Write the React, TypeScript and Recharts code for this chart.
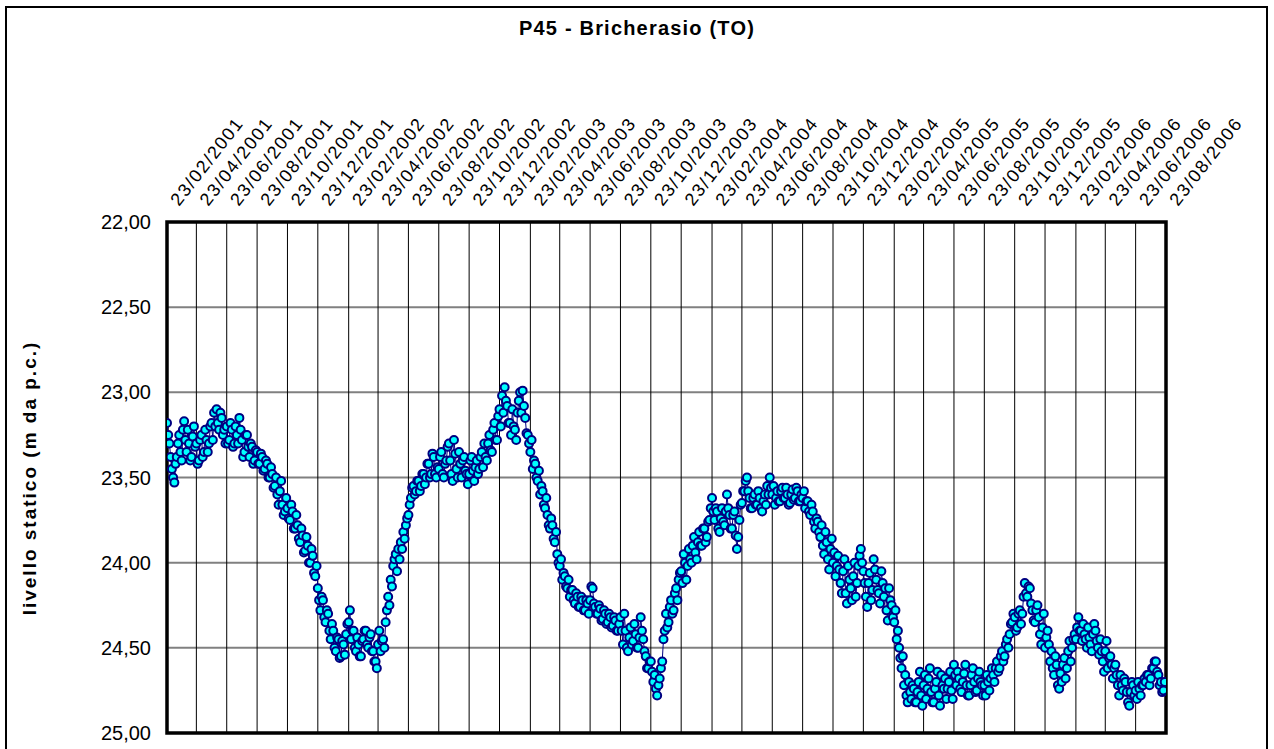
import React from 'react';
import { LineChart, Line, XAxis, YAxis, CartesianGrid, ReferenceArea } from 'recharts';

const chartTitle = 'P45 - Bricherasio (TO)';
const yTitle = 'livello statico (m da p.c.)';

const tickLabels = [
  '23/02/2001', '23/04/2001', '23/06/2001', '23/08/2001', '23/10/2001', '23/12/2001',
  '23/02/2002', '23/04/2002', '23/06/2002', '23/08/2002', '23/10/2002', '23/12/2002',
  '23/02/2003', '23/04/2003', '23/06/2003', '23/08/2003', '23/10/2003', '23/12/2003',
  '23/02/2004', '23/04/2004', '23/06/2004', '23/08/2004', '23/10/2004', '23/12/2004',
  '23/02/2005', '23/04/2005', '23/06/2005', '23/08/2005', '23/10/2005', '23/12/2005',
  '23/02/2006', '23/04/2006', '23/06/2006', '23/08/2006',
];

const yTicks = [22, 22.5, 23, 23.5, 24, 24.5, 25];

// readings, 24 per two-month interval (interval starts given by tickLabels)
const levels2001 = [
  23.18, 23.25, 23.30, 23.38, 23.45, 23.50, 23.53, 23.42, 23.38, 23.30, 23.25, 23.35, 23.40, 23.22, 23.17, 23.28, 23.35, 23.22, 23.30, 23.40, 23.38, 23.26, 23.20, 23.32,
  23.30, 23.42, 23.40, 23.28, 23.25, 23.38, 23.35, 23.22, 23.28, 23.35, 23.30, 23.20, 23.18, 23.28, 23.12, 23.20, 23.10, 23.18, 23.22, 23.12, 23.15, 23.25, 23.22, 23.30,
  23.20, 23.30, 23.28, 23.18, 23.22, 23.32, 23.30, 23.20, 23.25, 23.30, 23.15, 23.22, 23.28, 23.38, 23.35, 23.25, 23.25, 23.32, 23.38, 23.30, 23.32, 23.42, 23.40, 23.34,
  23.35, 23.42, 23.42, 23.36, 23.38, 23.46, 23.45, 23.40, 23.42, 23.50, 23.50, 23.44, 23.48, 23.56, 23.55, 23.50, 23.60, 23.66, 23.58, 23.52, 23.66, 23.72, 23.70, 23.62,
  23.68, 23.74, 23.75, 23.66, 23.70, 23.80, 23.80, 23.72, 23.78, 23.86, 23.88, 23.80, 23.84, 23.94, 23.93, 23.85, 23.90, 24.00, 24.00, 23.92, 23.96, 24.06, 24.08, 24.02,
  24.15, 24.22, 24.28, 24.20, 24.22, 24.32, 24.35, 24.28, 24.30, 24.40, 24.45, 24.36, 24.40, 24.50, 24.52, 24.44, 24.45, 24.56, 24.55, 24.46, 24.48, 24.54, 24.42, 24.36,
];
const levels2002 = [
  24.35, 24.28, 24.45, 24.40, 24.40, 24.50, 24.52, 24.44, 24.48, 24.55, 24.55, 24.46, 24.45, 24.40, 24.40, 24.48, 24.50, 24.44, 24.42, 24.52, 24.52, 24.58, 24.58, 24.62,
  24.48, 24.40, 24.52, 24.46, 24.45, 24.50, 24.35, 24.28, 24.20, 24.25, 24.10, 24.14, 24.02, 23.98, 23.95, 24.05, 23.92, 23.98, 23.88, 23.92, 23.82, 23.86, 23.78, 23.74,
  23.72, 23.66, 23.62, 23.56, 23.55, 23.60, 23.58, 23.52, 23.52, 23.58, 23.55, 23.48, 23.48, 23.54, 23.50, 23.42, 23.42, 23.50, 23.48, 23.36, 23.38, 23.48, 23.50, 23.44,
  23.45, 23.38, 23.35, 23.48, 23.50, 23.42, 23.40, 23.32, 23.30, 23.40, 23.48, 23.52, 23.28, 23.36, 23.45, 23.50, 23.35, 23.42, 23.50, 23.40, 23.38, 23.46, 23.48, 23.54,
  23.48, 23.40, 23.38, 23.46, 23.52, 23.44, 23.40, 23.48, 23.45, 23.38, 23.35, 23.44, 23.30, 23.38, 23.40, 23.30, 23.25, 23.34, 23.35, 23.22, 23.18, 23.28, 23.28, 23.14,
  23.10, 23.20, 23.02, 23.12, 22.97, 23.05, 23.08, 23.18, 23.18, 23.25, 23.10, 23.20, 23.22, 23.28, 23.12, 23.05, 23.00, 23.12, 22.99, 23.08, 23.15, 23.24, 23.25, 23.30,
];
const levels2003 = [
  23.35, 23.28, 23.45, 23.40, 23.42, 23.50, 23.52, 23.46, 23.60, 23.55, 23.58, 23.66, 23.68, 23.62, 23.72, 23.78, 23.80, 23.74, 23.78, 23.86, 23.88, 23.82, 23.95, 24.00,
  24.02, 23.98, 24.10, 24.06, 24.08, 24.14, 24.15, 24.10, 24.20, 24.16, 24.16, 24.22, 24.24, 24.18, 24.20, 24.26, 24.26, 24.20, 24.22, 24.28, 24.28, 24.22, 24.24, 24.30,
  24.22, 24.14, 24.15, 24.24, 24.26, 24.30, 24.30, 24.25, 24.27, 24.34, 24.33, 24.28, 24.30, 24.36, 24.35, 24.30, 24.32, 24.38, 24.37, 24.32, 24.34, 24.40, 24.40, 24.36,
  24.32, 24.40, 24.48, 24.30, 24.40, 24.50, 24.52, 24.44, 24.38, 24.48, 24.46, 24.36, 24.42, 24.50, 24.50, 24.44, 24.32, 24.40, 24.45, 24.52, 24.55, 24.62, 24.62, 24.58,
  24.58, 24.64, 24.70, 24.66, 24.74, 24.78, 24.72, 24.68, 24.62, 24.58, 24.45, 24.40, 24.30, 24.38, 24.35, 24.26, 24.22, 24.30, 24.28, 24.18, 24.15, 24.22, 24.10, 24.06,
  24.05, 24.12, 23.95, 24.00, 24.10, 24.02, 23.92, 23.98, 24.00, 23.90, 23.85, 23.94, 23.98, 23.88, 23.82, 23.90, 23.90, 23.80, 23.80, 23.88, 23.85, 23.76, 23.75, 23.68,
];
const levels2004 = [
  23.62, 23.70, 23.75, 23.68, 23.70, 23.80, 23.82, 23.74, 23.68, 23.76, 23.78, 23.70, 23.60, 23.68, 23.72, 23.80, 23.80, 23.72, 23.70, 23.84, 23.92, 23.85, 23.75, 23.66,
  23.65, 23.58, 23.58, 23.52, 23.50, 23.58, 23.62, 23.68, 23.68, 23.62, 23.60, 23.66, 23.66, 23.58, 23.62, 23.68, 23.70, 23.64, 23.60, 23.66, 23.55, 23.60, 23.50, 23.56,
  23.60, 23.55, 23.66, 23.62, 23.58, 23.64, 23.64, 23.58, 23.56, 23.62, 23.62, 23.56, 23.60, 23.66, 23.65, 23.60, 23.57, 23.63, 23.62, 23.56, 23.58, 23.64, 23.64, 23.60,
  23.62, 23.58, 23.68, 23.64, 23.64, 23.70, 23.72, 23.66, 23.70, 23.76, 23.80, 23.74, 23.76, 23.82, 23.85, 23.78, 23.90, 23.95, 23.82, 23.88, 23.98, 24.04, 23.92, 23.86,
  24.00, 23.94, 24.08, 24.02, 23.96, 24.04, 24.12, 24.18, 24.05, 23.98, 24.18, 24.24, 24.02, 24.10, 24.15, 24.22, 24.08, 24.00, 24.20, 24.12, 24.02, 23.96, 23.92, 24.00,
  24.05, 24.12, 24.20, 24.26, 24.12, 24.06, 24.22, 24.16, 23.98, 24.04, 24.10, 24.16, 24.18, 24.24, 24.05, 24.12, 24.20, 24.15, 24.28, 24.34, 24.15, 24.22, 24.25, 24.32,
];
const levels2005 = [
  24.35, 24.28, 24.45, 24.40, 24.50, 24.56, 24.62, 24.55, 24.72, 24.66, 24.78, 24.82, 24.70, 24.76, 24.80, 24.72, 24.74, 24.82, 24.82, 24.76, 24.70, 24.64, 24.78, 24.84,
  24.72, 24.66, 24.80, 24.74, 24.68, 24.62, 24.76, 24.82, 24.82, 24.74, 24.70, 24.64, 24.78, 24.84, 24.66, 24.72, 24.74, 24.68, 24.80, 24.74, 24.70, 24.64, 24.75, 24.80,
  24.60, 24.66, 24.72, 24.64, 24.68, 24.74, 24.76, 24.70, 24.65, 24.60, 24.72, 24.78, 24.78, 24.72, 24.66, 24.62, 24.70, 24.76, 24.75, 24.68, 24.64, 24.70, 24.72, 24.78,
  24.72, 24.78, 24.66, 24.70, 24.75, 24.68, 24.62, 24.66, 24.70, 24.62, 24.58, 24.64, 24.62, 24.55, 24.52, 24.58, 24.55, 24.48, 24.45, 24.50, 24.42, 24.36, 24.35, 24.30,
  24.32, 24.40, 24.38, 24.30, 24.28, 24.36, 24.30, 24.20, 24.12, 24.18, 24.20, 24.14, 24.15, 24.24, 24.28, 24.34, 24.35, 24.28, 24.25, 24.32, 24.42, 24.48, 24.38, 24.30,
  24.50, 24.44, 24.40, 24.48, 24.58, 24.52, 24.62, 24.66, 24.55, 24.60, 24.72, 24.74, 24.65, 24.70, 24.60, 24.56, 24.68, 24.62, 24.52, 24.46, 24.58, 24.50, 24.45, 24.42,
];
const levels2006 = [
  24.45, 24.38, 24.32, 24.40, 24.40, 24.46, 24.36, 24.42, 24.45, 24.50, 24.38, 24.44, 24.48, 24.52, 24.42, 24.36, 24.40, 24.46, 24.50, 24.54, 24.45, 24.52, 24.58, 24.64,
  24.52, 24.46, 24.62, 24.56, 24.55, 24.60, 24.68, 24.62, 24.60, 24.66, 24.72, 24.78, 24.66, 24.72, 24.75, 24.68, 24.70, 24.76, 24.82, 24.84, 24.76, 24.70, 24.72, 24.78,
  24.75, 24.80, 24.70, 24.74, 24.78, 24.72, 24.72, 24.68, 24.70, 24.66, 24.66, 24.72, 24.68, 24.62, 24.62, 24.58, 24.58, 24.64, 24.66, 24.72, 24.70, 24.76, 24.75, 24.70,
];

const SAMPLES_PER_INTERVAL = 24;

const toDay = (s: string) => {
  const [d, m, y] = s.split('/').map(Number);
  return Date.UTC(y, m - 1, d) / 86400000;
};
const day0 = toDay(tickLabels[0]);
const tickDays = tickLabels.map((l) => toDay(l) - day0);
const lastDay = tickDays[tickDays.length - 1];

const allLevels = [...levels2001, ...levels2002, ...levels2003, ...levels2004, ...levels2005, ...levels2006];
const data = allLevels.map((v, n) => {
  const k = Math.floor(n / SAMPLES_PER_INTERVAL);
  const j = n % SAMPLES_PER_INTERVAL;
  const a = tickDays[k];
  const b = tickDays[k + 1];
  return { day: a + (j * (b - a)) / SAMPLES_PER_INTERVAL, level: v };
});

const labelByDay = new Map(tickDays.map((d, i) => [d, tickLabels[i]]));

const FONT = '"Liberation Sans", Arial, sans-serif';

const XTick = (props: any) => {
  const { x, payload } = props;
  const lx = x + 12;
  const ly = 207;
  return (
    <text
      x={lx}
      y={ly}
      transform={`rotate(-52, ${lx}, ${ly})`}
      textAnchor="start"
      fontFamily={FONT}
      fontSize={18}
      letterSpacing={1.6}
      fill="#000"
    >
      {labelByDay.get(payload.value) ?? ''}
    </text>
  );
};

const YTick = (props: any) => {
  const { y, payload } = props;
  return (
    <text x={151} y={y + 7} textAnchor="end" fontFamily={FONT} fontSize={20} fill="#000">
      {Number(payload.value).toFixed(2).replace('.', ',')}
    </text>
  );
};

const Dot = (props: any) => {
  const { cx, cy } = props;
  if (cx == null || cy == null) return null;
  return <circle cx={cx} cy={cy} r={4} fill="#00FFFF" stroke="#000080" strokeWidth={2} />;
};

export default function App() {
  return (
    <div
      style={{
        position: 'fixed',
        left: 0,
        top: 0,
        width: 1274,
        height: 749,
        overflow: 'hidden',
        background: '#fff',
        fontFamily: FONT,
      }}
    >
      <div
        style={{
          position: 'absolute',
          left: 5,
          top: 6,
          width: 1263,
          height: 800,
          border: '2px solid #000',
          boxSizing: 'border-box',
        }}
      />
      <div
        style={{
          position: 'absolute',
          left: 0,
          top: 17,
          width: 1274,
          textAlign: 'center',
          fontWeight: 'bold',
          fontSize: 20,
          letterSpacing: 1.2,
        }}
      >
        {chartTitle}
      </div>
      <div
        style={{
          position: 'absolute',
          left: 30,
          top: 478,
          transform: 'translate(-50%, -50%) rotate(-90deg)',
          whiteSpace: 'nowrap',
          fontWeight: 'bold',
          fontSize: 19,
          letterSpacing: 2,
        }}
      >
        {yTitle}
      </div>
      <div style={{ position: 'absolute', left: 0, top: 0 }}>
        <LineChart
          width={1274}
          height={749}
          data={data}
          margin={{ top: 0, right: 108, bottom: 16, left: 0 }}
        >
          <CartesianGrid horizontal={true} vertical={false} stroke="#808080" strokeWidth={2} />
          <CartesianGrid horizontal={false} vertical={true} stroke="#000" strokeWidth={1} />
          <XAxis
            dataKey="day"
            type="number"
            orientation="top"
            domain={[0, lastDay]}
            ticks={tickDays}
            interval={0}
            height={222}
            axisLine={false}
            tickLine={false}
            tick={<XTick />}
            allowDataOverflow
          />
          <YAxis
            type="number"
            domain={[22, 25]}
            ticks={yTicks}
            reversed
            width={167}
            axisLine={false}
            tickLine={false}
            tick={<YTick />}
            interval={0}
            allowDataOverflow
          />
          <Line
            dataKey="level"
            stroke="#000080"
            strokeWidth={1}
            dot={<Dot />}
            activeDot={false}
            isAnimationActive={false}
          />
          <ReferenceArea
            x1={0}
            x2={lastDay}
            y1={22}
            y2={25}
            fill="none"
            stroke="#000"
            strokeWidth={3.5}
            ifOverflow="visible"
          />
        </LineChart>
      </div>
    </div>
  );
}
